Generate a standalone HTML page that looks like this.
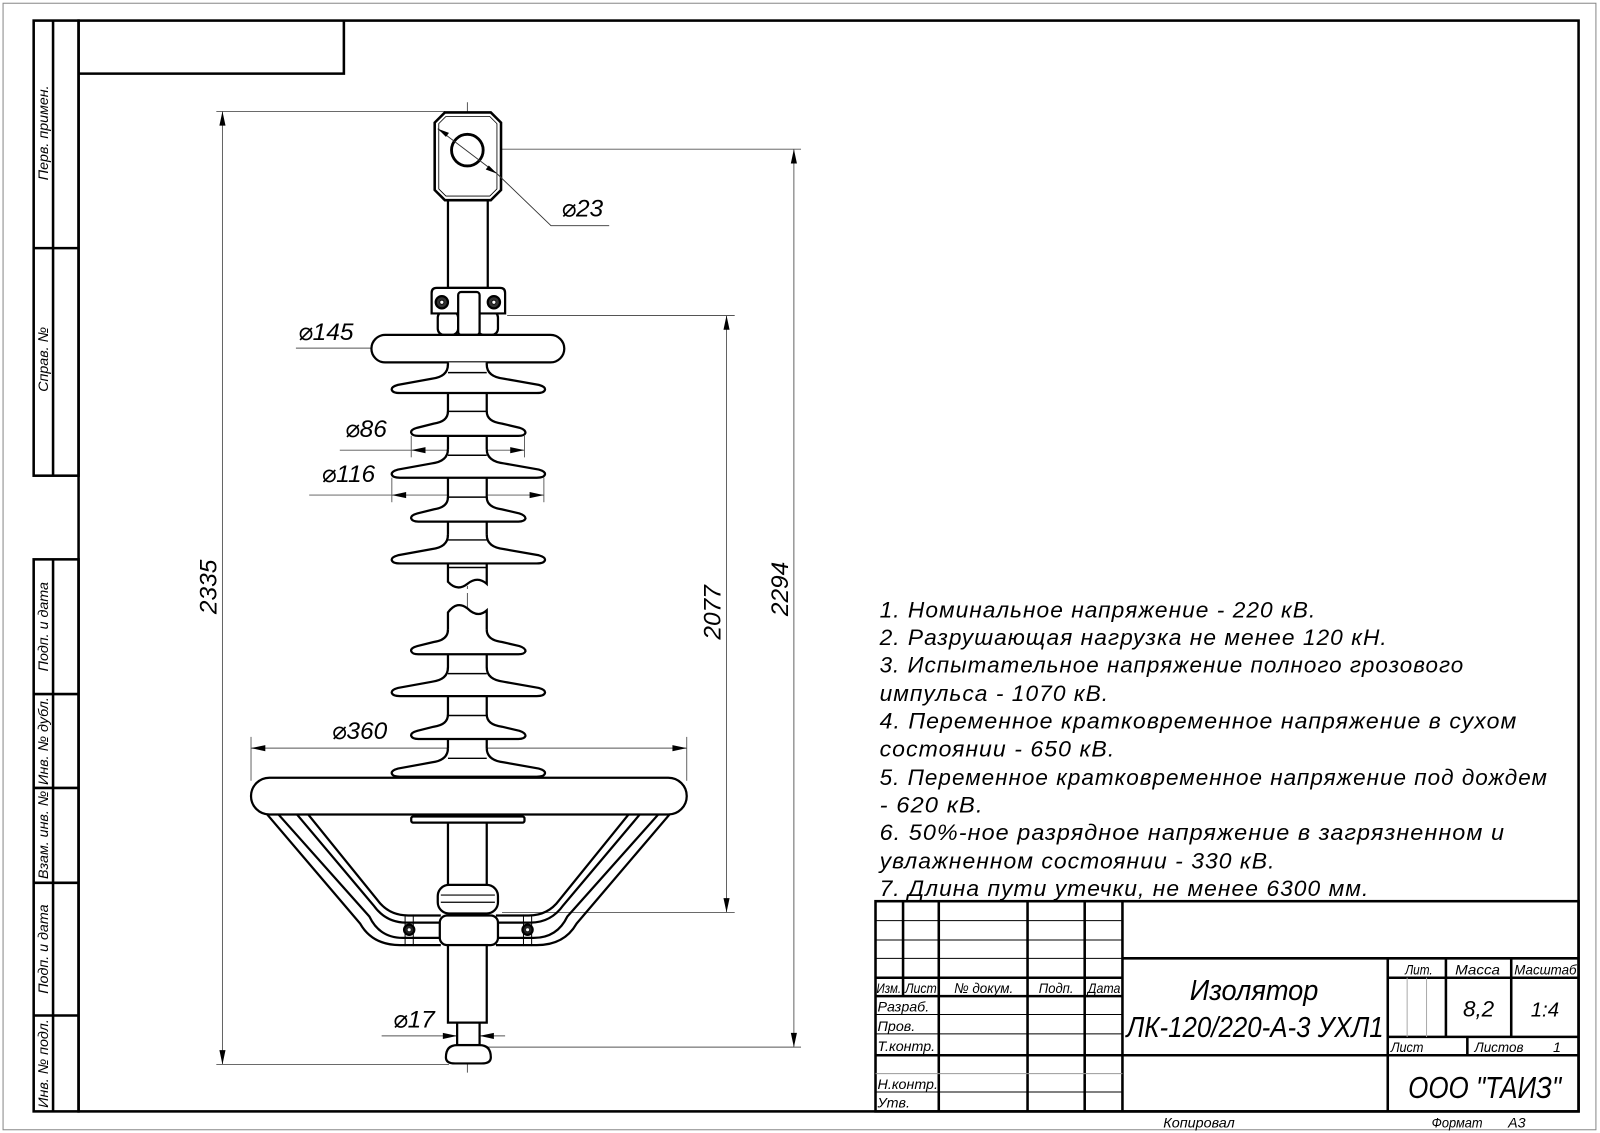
<!DOCTYPE html>
<html><head><meta charset="utf-8"><style>
html,body{margin:0;padding:0;background:#fff;}
svg{display:block;}
text{font-family:"Liberation Sans Narrow","Liberation Sans","DejaVu Sans",sans-serif;font-style:italic;fill:#000;}
</style></head><body>
<svg width="1600" height="1133" viewBox="0 0 1568 1110" xmlns="http://www.w3.org/2000/svg">
<defs>
<path id="bs" d="M439,-24 Q439,-12 423,-10 L390,-4 Q383,-2 384,1 Q385,4 392,4 L526,4 Q533,4 534,1 Q535,-2 528,-4 L494,-10 Q477,-12 477,-24" fill="#fff" stroke="#000" stroke-width="2.2"/>
<path id="ss" d="M439,-20 Q439,-10 425,-8 L409,-4 Q402,-2 403,1 Q404,4 410,4 L508,4 Q514,4 515,1 Q515,-2 509,-4 L492,-8 Q477,-10 477,-20" fill="#fff" stroke="#000" stroke-width="2.2"/>
</defs>
<rect x="0" y="0" width="1568" height="1110" fill="#fff"/>
<rect x="3" y="3" width="1561" height="1104" fill="none" stroke="#888" stroke-width="1"/>
<g fill="none" stroke="#000" stroke-width="2.5">
<rect x="77" y="20" width="1470" height="1069"/>
<polyline points="77,72 337,72 337,20"/>
<rect x="33" y="20" width="44" height="446"/>
<line x1="52" y1="20" x2="52" y2="466"/><line x1="33" y1="243" x2="77" y2="243"/>
<rect x="33" y="548" width="44" height="541"/>
<line x1="52" y1="548" x2="52" y2="1089"/>
<line x1="33" y1="680" x2="77" y2="680"/><line x1="33" y1="772" x2="77" y2="772"/><line x1="33" y1="865" x2="77" y2="865"/><line x1="33" y1="995" x2="77" y2="995"/>
</g>
<g font-size="14" text-anchor="middle">
<text transform="translate(47,130) rotate(-90)">Перв. примен.</text>
<text transform="translate(47,352) rotate(-90)">Справ. №</text>
<text transform="translate(47,614) rotate(-90)">Подп. и дата</text>
<text transform="translate(47,726) rotate(-90)">Инв. № дубл.</text>
<text transform="translate(47,818) rotate(-90)">Взам. инв. №</text>
<text transform="translate(47,930) rotate(-90)">Подп. и дата</text>
<text transform="translate(47,1042) rotate(-90)">Инв. № подл.</text>
</g>
<g fill="none" stroke="#000">
<g stroke-width="2.5">
<rect x="858" y="883" width="689" height="206"/>
<line x1="1100" y1="883" x2="1100" y2="1089"/>
<line x1="1100" y1="939" x2="1547" y2="939"/>
<line x1="858" y1="958" x2="1100" y2="958"/>
<line x1="858" y1="976" x2="1100" y2="976"/>
<line x1="858" y1="1034" x2="1547" y2="1034"/>
<line x1="885" y1="883" x2="885" y2="976"/>
<line x1="920" y1="883" x2="920" y2="1089"/>
<line x1="1007" y1="883" x2="1007" y2="1089"/>
<line x1="1063" y1="883" x2="1063" y2="1089"/>
<line x1="1360" y1="939" x2="1360" y2="1089"/>
<line x1="1360" y1="958" x2="1547" y2="958"/>
<line x1="1360" y1="1016" x2="1547" y2="1016"/>
<line x1="1417" y1="939" x2="1417" y2="1016"/>
<line x1="1481" y1="939" x2="1481" y2="1016"/>
<line x1="1438" y1="1016" x2="1438" y2="1034"/>
</g>
<g stroke-width="1">
<line x1="858" y1="902" x2="1100" y2="902"/><line x1="858" y1="921" x2="1100" y2="921"/><line x1="858" y1="939" x2="1100" y2="939"/>
<line x1="858" y1="994" x2="1100" y2="994"/><line x1="858" y1="1013" x2="1100" y2="1013"/>
<line x1="858" y1="1052" x2="1100" y2="1052" stroke="#999"/><line x1="858" y1="1070" x2="1100" y2="1070"/>
<line x1="1379" y1="958" x2="1379" y2="1016" stroke="#aaa"/><line x1="1398" y1="958" x2="1398" y2="1016" stroke="#aaa"/>
</g>
</g>
<g font-size="14">
<text x="859" y="973" textLength="24" lengthAdjust="spacingAndGlyphs">Изм.</text>
<text x="887" y="973" textLength="31" lengthAdjust="spacingAndGlyphs">Лист</text>
<text x="935" y="973" textLength="58" lengthAdjust="spacingAndGlyphs">№ докум.</text>
<text x="1018" y="973" textLength="34" lengthAdjust="spacingAndGlyphs">Подп.</text>
<text x="1066" y="973" textLength="32" lengthAdjust="spacingAndGlyphs">Дата</text>
<text x="860" y="991">Разраб.</text>
<text x="860" y="1010">Пров.</text>
<text x="860" y="1030">Т.контр.</text>
<text x="860" y="1067">Н.контр.</text>
<text x="860" y="1085">Утв.</text>
<text x="1377" y="955" textLength="27" lengthAdjust="spacingAndGlyphs">Лит.</text>
<text x="1426" y="955" textLength="44" lengthAdjust="spacingAndGlyphs">Масса</text>
<text x="1484" y="955" textLength="61" lengthAdjust="spacingAndGlyphs">Масштаб</text>
<text x="1363" y="1031" textLength="32" lengthAdjust="spacingAndGlyphs">Лист</text>
<text x="1445" y="1031" textLength="48" lengthAdjust="spacingAndGlyphs">Листов</text>
<text x="1522" y="1031">1</text>
<text x="1140" y="1105" textLength="70" lengthAdjust="spacingAndGlyphs">Копировал</text>
<text x="1403" y="1105" textLength="50" lengthAdjust="spacingAndGlyphs">Формат</text>
<text x="1478" y="1105">А3</text>
</g>
<text x="1449" y="996" font-size="22" text-anchor="middle">8,2</text>
<text x="1514" y="996" font-size="20" text-anchor="middle">1:4</text>
<text x="1166" y="980" font-size="28" textLength="126" lengthAdjust="spacingAndGlyphs">Изолятор</text>
<text x="1104" y="1016" font-size="28" textLength="252" lengthAdjust="spacingAndGlyphs">ЛК-120/220-А-3 УХЛ1</text>
<text x="1380" y="1076" font-size="30" textLength="150" lengthAdjust="spacingAndGlyphs">ООО "ТАИЗ"</text>
<g font-size="22" letter-spacing="1">
<text x="862" y="605" textLength="428" lengthAdjust="spacingAndGlyphs">1. Номинальное напряжение - 220 кВ.</text>
<text x="862" y="632" textLength="498" lengthAdjust="spacingAndGlyphs">2. Разрушающая нагрузка не менее 120 кН.</text>
<text x="862" y="659" textLength="573" lengthAdjust="spacingAndGlyphs">3. Испытательное напряжение полного грозового</text>
<text x="862" y="687" textLength="225" lengthAdjust="spacingAndGlyphs">импульса - 1070 кВ.</text>
<text x="862" y="714" textLength="625" lengthAdjust="spacingAndGlyphs">4. Переменное кратковременное напряжение  в сухом</text>
<text x="862" y="741" textLength="231" lengthAdjust="spacingAndGlyphs">состоянии - 650 кВ.</text>
<text x="862" y="769" textLength="655" lengthAdjust="spacingAndGlyphs">5. Переменное кратковременное напряжение под дождем</text>
<text x="862" y="796" textLength="102" lengthAdjust="spacingAndGlyphs">- 620 кВ.</text>
<text x="862" y="823" textLength="613" lengthAdjust="spacingAndGlyphs">6. 50%-ное разрядное напряжение в загрязненном и</text>
<text x="862" y="851" textLength="388" lengthAdjust="spacingAndGlyphs">увлажненном состоянии - 330 кВ.</text>
<text x="862" y="878" textLength="480" lengthAdjust="spacingAndGlyphs">7. Длина пути утечки, не менее 6300 мм.</text>
</g>
<line x1="458" y1="100" x2="458" y2="1055" stroke="#333" stroke-width="0.8" stroke-dasharray="26 4 3 4"/>
<g stroke="#555" stroke-width="0.9" fill="none">
<line x1="218" y1="109" x2="218" y2="1043"/><line x1="212" y1="109" x2="436" y2="109"/><line x1="212" y1="1043" x2="440" y2="1043"/>
<line x1="712" y1="309" x2="712" y2="894"/><line x1="497" y1="309" x2="720" y2="309"/><line x1="492" y1="894" x2="720" y2="894"/>
<line x1="778" y1="146" x2="778" y2="1026"/><line x1="475" y1="146" x2="785" y2="146"/><line x1="476" y1="1026" x2="785" y2="1026"/>
<line x1="290" y1="341" x2="553" y2="341"/>
<line x1="333" y1="441" x2="514" y2="441"/><line x1="403" y1="427" x2="403" y2="448"/><line x1="514" y1="427" x2="514" y2="448"/>
<line x1="303" y1="485" x2="533" y2="485"/><line x1="384" y1="468" x2="384" y2="492"/><line x1="533" y1="468" x2="533" y2="492"/>
<line x1="246" y1="733" x2="673" y2="733"/><line x1="246" y1="722" x2="246" y2="765"/><line x1="673" y1="722" x2="673" y2="765"/>
<line x1="374" y1="1015" x2="495" y2="1015"/>
</g>
<g fill="#000">
<polygon points="218,109 215,123 221,123"/><polygon points="218,1043 215,1029 221,1029"/>
<polygon points="712,309 709,323 715,323"/><polygon points="712,894 709,880 715,880"/>
<polygon points="778,146 775,160 781,160"/><polygon points="778,1026 775,1012 781,1012"/>
<polygon points="366,341 380,338 380,344"/><polygon points="551,341 537,338 537,344"/>
<polygon points="403,441 417,438 417,444"/><polygon points="514,441 500,438 500,444"/>
<polygon points="384,485 398,482 398,488"/><polygon points="533,485 519,482 519,488"/>
<polygon points="246,733 260,730 260,736"/><polygon points="673,733 659,730 659,736"/>
<polygon points="448,1015 434,1012 434,1018"/><polygon points="470,1015 484,1012 484,1018"/>
</g>
<g font-size="24">
<text transform="translate(212,575) rotate(-90)" text-anchor="middle">2335</text>
<text transform="translate(706,600) rotate(-90)" text-anchor="middle">2077</text>
<text transform="translate(772,577) rotate(-90)" text-anchor="middle">2294</text>
<text x="292" y="333">⌀145</text>
<text x="338" y="428">⌀86</text>
<text x="315" y="472">⌀116</text>
<text x="325" y="724">⌀360</text>
<text x="385" y="1007">⌀17</text>
<text x="550" y="212">⌀23</text>
</g>
<g fill="#fff" stroke="#000" stroke-width="2.2">
<rect x="439" y="196" width="39" height="86"/>
<path d="M436,110 L481,110 L491,120 L491,186 L481,196 L436,196 L426,186 L426,120 Z" stroke-width="2.5"/>
<path d="M437,114 L480,114 L487,121 L487,185 L480,192 L437,192 L430,185 L430,121 Z" stroke-width="0.8" fill="none"/>
<circle cx="458" cy="147" r="15.5" stroke-width="2.8"/>
<rect x="429" y="305" width="20" height="23" rx="6"/><rect x="468" y="305" width="20" height="23" rx="6"/>
<path d="M423,307 L423,287 Q423,282 428,282 L490,282 Q495,282 495,287 L495,307 Z"/>
<rect x="449" y="286" width="21" height="42" rx="3"/>
<circle cx="433" cy="296" r="6" fill="#333"/><circle cx="484" cy="296" r="6" fill="#333"/>
<circle cx="433" cy="296" r="2" fill="#fff" stroke-width="0.8"/><circle cx="484" cy="296" r="2" fill="#fff" stroke-width="0.8"/>
<rect x="364" y="328" width="189" height="27" rx="13.5"/>
<path d="M439,355 L439,570 Q448,580 458,572 Q468,564 477,572 L477,355"/>
<path d="M439,600 Q448,588 458,596 Q468,606 477,598 L477,760 L439,760 Z"/>
<line x1="439" y1="619" x2="477" y2="619" stroke-width="1.4"/>
</g>
<g>
<use href="#bs" y="381"/><use href="#ss" y="423"/><use href="#bs" y="464"/><use href="#ss" y="507"/><use href="#bs" y="548"/>
<use href="#ss" y="637"/><use href="#bs" y="678"/><use href="#ss" y="720"/><use href="#bs" y="757"/>
</g>
<g stroke="#000" stroke-width="1.4">
<line x1="439" y1="365" x2="477" y2="365"/><line x1="439" y1="403" x2="477" y2="403"/><line x1="439" y1="446" x2="477" y2="446"/><line x1="439" y1="487" x2="477" y2="487"/><line x1="439" y1="529" x2="477" y2="529"/><line x1="439" y1="556" x2="477" y2="556"/>
<line x1="439" y1="660" x2="477" y2="660"/><line x1="439" y1="701" x2="477" y2="701"/><line x1="439" y1="743" x2="477" y2="743"/>
</g>
<g fill="none" stroke="#000" stroke-width="2.2" id="arm">
<path d="M261,797 L353,905 Q365,926 392,926 L432,926"/>
<path d="M272,797 L362,898 Q372,919 395,919 L432,919"/>
<path d="M291,798 L366,887 Q378,904 398,904 L432,904"/>
<path d="M302,798 L370,882 Q381,897 400,897 L432,897"/>
<line x1="397" y1="896" x2="397" y2="927" stroke-width="1"/><line x1="405" y1="896" x2="405" y2="927" stroke-width="1"/>
<circle cx="401" cy="911" r="5" fill="#222"/>
</g>
<use href="#arm" transform="translate(918,0) scale(-1,1)"/>
<g fill="#fff" stroke="#000" stroke-width="2.2">
<rect x="246" y="762" width="427" height="36" rx="18"/>
<rect x="403" y="800" width="111" height="6" rx="2"/>
<rect x="439" y="806" width="38" height="62"/>
<rect x="429" y="867" width="59" height="28" rx="11"/>
<rect x="431" y="897" width="57" height="29" rx="7"/>
<rect x="439" y="926" width="38" height="76"/>
<rect x="448" y="1002" width="22" height="22"/>
<path d="M437,1036 Q437,1024 448,1024 L470,1024 Q481,1024 481,1036 Q481,1042 472,1042 L446,1042 Q437,1042 437,1036 Z"/>
</g>
<g stroke="#000" stroke-width="1.2"><line x1="432" y1="877" x2="485" y2="877"/><line x1="432" y1="884" x2="485" y2="884"/></g>
<circle cx="401" cy="911" r="1.5" fill="#fff"/><circle cx="517" cy="911" r="1.5" fill="#fff"/>
<polyline points="429,126 487,170 540,221 597,221" fill="none" stroke="#333" stroke-width="0.9"/>
<g fill="#000"><polygon points="429,126 440,130 437,134"/><polygon points="487,170 476,166 479,162"/></g>
</svg>
</body></html>
